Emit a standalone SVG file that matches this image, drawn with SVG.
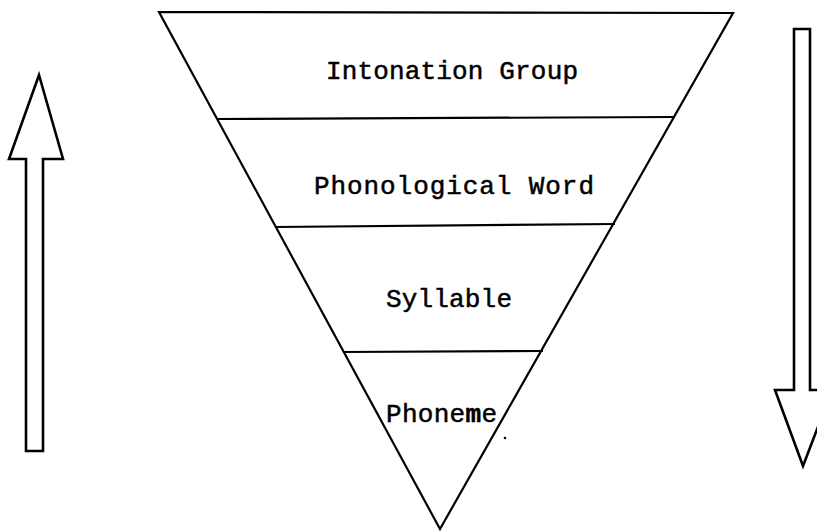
<svg xmlns="http://www.w3.org/2000/svg" width="817" height="531" viewBox="0 0 817 531">
  <style>
    .shape { fill: none; stroke: #000; stroke-width: 2.2; stroke-linejoin: miter; }
    .arrow { fill: #fff; stroke: #000; stroke-width: 2.6; stroke-linejoin: miter; }
    .label { font-family: "Liberation Mono", "DejaVu Sans Mono", monospace; font-size: 26px; fill: #000; stroke: #000; stroke-width: 0.5; }
  </style>
  <rect width="817" height="531" fill="#fff"/>
  <g id="pyramid">
    <polygon class="shape" points="159,12 733,13 440,529"/>
  </g>
  <g id="connectors">
    <line class="shape" x1="217" y1="119" x2="675" y2="117"/>
    <line class="shape" x1="275" y1="227" x2="615" y2="224"/>
    <line class="shape" x1="343" y1="352" x2="543" y2="351"/>
  </g>
  <g id="intonation-group">
    <text class="label" x="326" y="79" textLength="252">Intonation Group</text>
  </g>
  <g id="phonological-word">
    <text class="label" x="314" y="194" textLength="280">Phonological Word</text>
  </g>
  <g id="syllable">
    <text class="label" x="386" y="307" textLength="126">Syllable</text>
  </g>
  <g id="phoneme">
    <text class="label" x="386" y="422" textLength="111">Phone<tspan font-weight="bold">m</tspan>e</text>
    <circle cx="505" cy="438" r="1.3" fill="#000"/>
  </g>
  <g id="up-arrow">
    <polygon class="arrow" points="39,75 63,159 43,159 43,451 26,451 26,159 9,159"/>
  </g>
  <g id="down-arrow">
    <polygon class="arrow" points="794,29 810,29 810,390 832,390 803,466 775,390 794,390"/>
  </g>
</svg>
